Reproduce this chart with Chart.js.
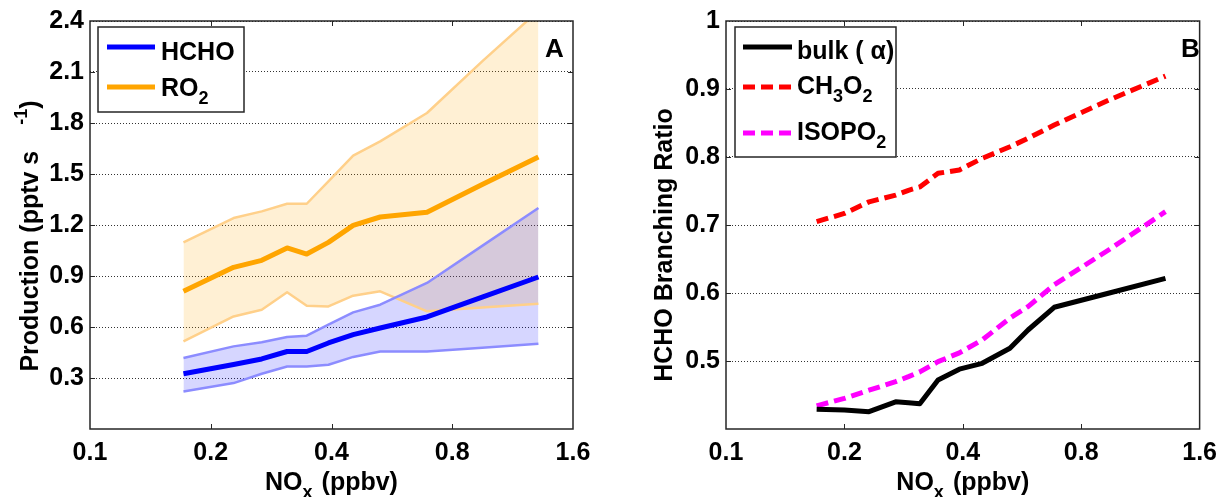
<!DOCTYPE html>
<html><head><meta charset="utf-8">
<script src="https://cdn.jsdelivr.net/npm/chart.js@4"></script>
<style>
html,body{margin:0;padding:0;background:#fff;width:1226px;height:497px;overflow:hidden}
#wa{position:absolute;left:0;top:0;width:613px;height:497px}
#wb{position:absolute;left:613px;top:0;width:613px;height:497px}
</style></head><body>
<div id="wa"><canvas id="ca" width="613" height="497"></canvas></div>
<div id="wb"><canvas id="cb" width="613" height="497"></canvas></div>
<script>
// ---------- data ----------
const xTickValues = [0.1, 0.2, 0.4, 0.8, 1.6];
const xTickLabels = ['0.1', '0.2', '0.4', '0.8', '1.6'];

// Panel A
const noxA     = [0.171, 0.228, 0.268, 0.310, 0.347, 0.393, 0.453, 0.529, 0.692, 0.950, 1.312];
const hchoMid  = [0.325, 0.379, 0.412, 0.456, 0.456, 0.506, 0.555, 0.594, 0.659, 0.776, 0.894];
const hchoHigh = [0.418, 0.486, 0.510, 0.541, 0.549, 0.614, 0.686, 0.731, 0.859, 1.077, 1.300];
const hchoLow  = [0.221, 0.270, 0.325, 0.368, 0.368, 0.378, 0.424, 0.456, 0.456, 0.478, 0.502];
const ro2Mid   = [0.810, 0.951, 0.992, 1.065, 1.029, 1.098, 1.198, 1.247, 1.275, 1.438, 1.600];
const ro2High  = [1.098, 1.241, 1.280, 1.325, 1.325, 1.457, 1.608, 1.692, 1.859, 2.163, 2.460];
const ro2Low   = [0.515, 0.662, 0.702, 0.804, 0.725, 0.721, 0.784, 0.810, 0.692, 0.715, 0.737];
const yTicksA  = [0.3, 0.6, 0.9, 1.2, 1.5, 1.8, 2.1, 2.4];
const yLabelsA = ['0.3', '0.6', '0.9', '1.2', '1.5', '1.8', '2.1', '2.4'];

// Panel B
const noxB    = [0.170, 0.200, 0.231, 0.270, 0.291, 0.311, 0.346, 0.392, 0.448, 0.527, 0.586, 0.683, 0.943, 1.310];
const bulkB   = [0.429, 0.428, 0.4255, 0.440, 0.4387, 0.437, 0.472, 0.488, 0.4966, 0.5187, 0.5456, 0.579, 0.600, 0.6216];
const ch3o2B  = [0.705, 0.717, 0.734, 0.744, 0.751, 0.756, 0.776, 0.781, 0.798, 0.815, 0.8275, 0.847, 0.884, 0.919];
const isopo2B = [0.434, 0.445, 0.457, 0.4696, 0.477, 0.484, 0.499, 0.512, 0.531, 0.563, 0.580, 0.612, 0.664, 0.7196];
const yTicksB  = [0.5, 0.6, 0.7, 0.8, 0.9, 1.0];
const yLabelsB = ['0.5', '0.6', '0.7', '0.8', '0.9', '1'];

// ---------- helpers ----------
const FONT = '"Liberation Sans", Arial, Helvetica, sans-serif';
function setFont(ctx, size){ ctx.font = 'bold ' + size + 'px ' + FONT; }
function partSize(p, size){ return p.s ? Math.round(size * 0.72) : size; }
function richWidth(ctx, parts, size){
  let w = 0;
  for (const p of parts){ setFont(ctx, partSize(p, size)); w += ctx.measureText(p.t).width + (p.gap || 0); }
  return w;
}
function drawRich(ctx, parts, x, y, size){
  let cx = x;
  ctx.textAlign = 'left'; ctx.textBaseline = 'alphabetic';
  for (const p of parts){
    setFont(ctx, partSize(p, size));
    const dy = p.s === 'sub' ? size * 0.33 : (p.s === 'sup' ? -size * 0.45 : 0);
    ctx.fillText(p.t, cx, y + dy);
    cx += ctx.measureText(p.t).width + (p.gap || 0);
  }
}
const pts = (xs, ys) => xs.map((x, i) => ({x: x, y: ys[i]}));

const decor = {
  id: 'decor',
  afterDraw(chart, args, o){
    const ctx = chart.ctx, a = chart.chartArea;
    const xs = chart.scales.x, ys = chart.scales.y;
    ctx.save();
    // frame
    ctx.strokeStyle = '#262626'; ctx.lineWidth = 1.5;
    ctx.strokeRect(a.left, a.top, a.right - a.left, a.bottom - a.top);
    // inward tick marks
    ctx.lineWidth = 1;
    ctx.beginPath();
    for (const v of xTickValues){
      const px = Math.round(xs.getPixelForValue(v)) + 0.5;
      if (px <= a.left + 2 || px >= a.right - 2) continue;
      ctx.moveTo(px, a.bottom); ctx.lineTo(px, a.bottom - 5);
      ctx.moveTo(px, a.top); ctx.lineTo(px, a.top + 5);
    }
    for (const v of o.yTicks){
      const py = Math.round(ys.getPixelForValue(v)) + 0.5;
      if (py <= a.top + 2 || py >= a.bottom - 2) continue;
      ctx.moveTo(a.left, py); ctx.lineTo(a.left + 5, py);
      ctx.moveTo(a.right, py); ctx.lineTo(a.right - 5, py);
    }
    ctx.stroke();
    // legend
    const L = o.legend;
    ctx.fillStyle = '#fff'; ctx.fillRect(L.x, L.y, L.w, L.h);
    ctx.strokeStyle = '#262626'; ctx.lineWidth = 1.5; ctx.strokeRect(L.x, L.y, L.w, L.h);
    for (const it of L.items){
      ctx.strokeStyle = it.color; ctx.lineWidth = it.width; ctx.lineCap = 'butt';
      ctx.setLineDash(it.dash || []);
      ctx.beginPath(); ctx.moveTo(L.lx1, it.ly); ctx.lineTo(L.lx2, it.ly); ctx.stroke();
      ctx.setLineDash([]);
      ctx.fillStyle = '#000';
      drawRich(ctx, it.text, L.tx, it.ty, L.size);
    }
    // panel letter
    ctx.fillStyle = '#000';
    setFont(ctx, 26); ctx.textAlign = 'left'; ctx.textBaseline = 'alphabetic';
    ctx.fillText(o.letter.t, o.letter.x, o.letter.y);
    // x title
    const xt = o.xTitle;
    const w = richWidth(ctx, xt.parts, xt.size);
    drawRich(ctx, xt.parts, (a.left + a.right) / 2 - w / 2 + (xt.dx || 0), xt.y, xt.size);
    // y title (rotated)
    const yt = o.yTitle;
    ctx.save();
    ctx.translate(yt.x, yt.cy); ctx.rotate(-Math.PI / 2);
    const w2 = richWidth(ctx, yt.parts, yt.size);
    drawRich(ctx, yt.parts, -w2 / 2, 0, yt.size);
    ctx.restore();
    ctx.restore();
  }
};

function makeChart(canvas, datasets, cfg){
  const tickFont = {family: FONT, size: 25, weight: 'bold'};
  return new Chart(canvas, {
    type: 'line',
    data: {datasets: datasets},
    options: {
      responsive: false, animation: false, devicePixelRatio: 1,
      layout: {padding: {left: 0, right: cfg.padRight, top: 21, bottom: 0}},
      elements: {point: {radius: 0}, line: {tension: 0}},
      plugins: {
        legend: {display: false}, tooltip: {enabled: false},
        filler: {drawTime: 'beforeDatasetsDraw'},
        decor: cfg.decor
      },
      scales: {
        x: {
          type: 'logarithmic', min: 0.1, max: 1.6,
          afterBuildTicks: s => { s.ticks = xTickValues.map(v => ({value: v})); },
          afterFit: s => { s.height = 68; },
          grid: {display: false, drawTicks: false},
          border: {display: false},
          ticks: {autoSkip: false, maxRotation: 0, padding: 9, color: '#000', font: tickFont,
                  callback: (v, i) => xTickLabels[i]}
        },
        y: {
          type: 'linear', min: cfg.yMin, max: cfg.yMax, z: 1,
          afterBuildTicks: s => { s.ticks = cfg.yTicks.map(v => ({value: v})); },
          afterFit: s => { s.width = cfg.yWidth; },
          grid: {color: '#333', lineWidth: 1, drawTicks: false, borderDash: [1, 2]},
          border: {display: false, dash: [1, 2]},
          ticks: {padding: 6, color: '#000', font: tickFont, callback: (v, i) => cfg.yLabels[i]}
        }
      }
    },
    plugins: [decor]
  });
}

const common = {pointRadius: 0, tension: 0, borderCapStyle: 'butt', borderJoinStyle: 'round'};

// Panel A
makeChart(document.getElementById('ca'), [
  Object.assign({label: 'HCHO', data: pts(noxA, hchoMid), borderColor: '#0000FF', borderWidth: 5, fill: false}, common),
  Object.assign({label: 'RO2', data: pts(noxA, ro2Mid), borderColor: '#FFA500', borderWidth: 5, fill: false}, common),
  Object.assign({label: 'HCHO high', data: pts(noxA, hchoHigh), borderColor: '#8C8CFF', borderWidth: 2.5, fill: '+1', backgroundColor: 'rgba(0,0,255,0.16)'}, common),
  Object.assign({label: 'HCHO low', data: pts(noxA, hchoLow), borderColor: '#8C8CFF', borderWidth: 2.5, fill: false}, common),
  Object.assign({label: 'RO2 high', data: pts(noxA, ro2High), borderColor: '#FFD08A', borderWidth: 2.5, fill: '+1', backgroundColor: 'rgba(255,165,0,0.17)', clip: 0}, common),
  Object.assign({label: 'RO2 low', data: pts(noxA, ro2Low), borderColor: '#FFD08A', borderWidth: 2.5, fill: false}, common)
], {
  padRight: 40, yWidth: 90, yMin: 0, yMax: 2.4, yTicks: yTicksA, yLabels: yLabelsA,
  decor: {
    yTicks: yTicksA,
    legend: {x: 98, y: 27, w: 146, h: 85, lx1: 107, lx2: 155, tx: 161, size: 25, items: [
      {color: '#0000FF', width: 5, ly: 47, ty: 60, text: [{t: 'HCHO'}]},
      {color: '#FFA500', width: 5, ly: 87, ty: 96, text: [{t: 'RO'}, {t: '2', s: 'sub'}]}
    ]},
    letter: {t: 'A', x: 545, y: 57},
    xTitle: {size: 25, y: 490, parts: [{t: 'NO'}, {t: 'x', s: 'sub', gap: 9}, {t: '(ppbv)'}]},
    yTitle: {size: 25, x: 38, cy: 236, parts: [{t: 'Production (pptv s', gap: 26}, {t: '-1', s: 'sup'}, {t: ')'}]}
  }
});

// Panel B
makeChart(document.getElementById('cb'), [
  Object.assign({label: 'bulk ( α)', data: pts(noxB, bulkB), borderColor: '#000000', borderWidth: 5, fill: false}, common),
  Object.assign({label: 'CH3O2', data: pts(noxB, ch3o2B), borderColor: '#FF0000', borderWidth: 5, borderDash: [12, 6], fill: false}, common),
  Object.assign({label: 'ISOPO2', data: pts(noxB, isopo2B), borderColor: '#FF00FF', borderWidth: 5, borderDash: [12, 6], fill: false}, common)
], {
  padRight: 18, yWidth: 113, yMin: 0.4, yMax: 1.0, yTicks: yTicksB, yLabels: yLabelsB,
  decor: {
    yTicks: yTicksB,
    legend: {x: 122, y: 27, w: 161, h: 130, lx1: 130, lx2: 179, tx: 184, size: 25, items: [
      {color: '#000000', width: 5, ly: 47, ty: 59, text: [{t: 'bulk ( α)'}]},
      {color: '#FF0000', width: 5, dash: [12, 6], ly: 87, ty: 94, text: [{t: 'CH'}, {t: '3', s: 'sub'}, {t: 'O'}, {t: '2', s: 'sub'}]},
      {color: '#FF00FF', width: 5, dash: [12, 6], ly: 133, ty: 140, text: [{t: 'ISOPO'}, {t: '2', s: 'sub'}]}
    ]},
    letter: {t: 'B', x: 568, y: 57},
    xTitle: {size: 25, y: 490, parts: [{t: 'NO'}, {t: 'x', s: 'sub', gap: 9}, {t: '(ppbv)'}]},
    yTitle: {size: 25, x: 59, cy: 245, parts: [{t: 'HCHO Branching Ratio'}]}
  }
});
</script>
</body></html>
